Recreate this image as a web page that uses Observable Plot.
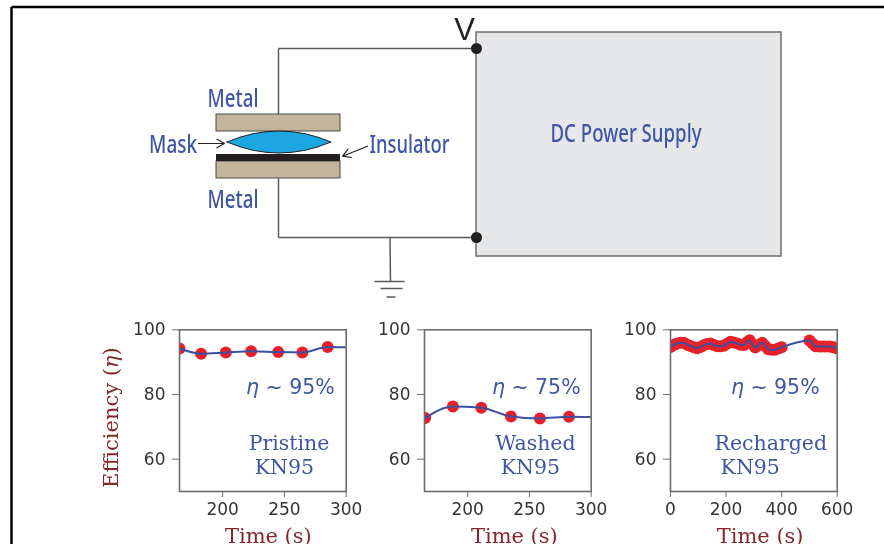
<!DOCTYPE html>
<html>
<head>
<meta charset="utf-8">
<script src="https://cdn.jsdelivr.net/npm/d3@7"></script>
<script src="https://cdn.jsdelivr.net/npm/@observablehq/plot@0.6"></script>
<style>
html,body{margin:0;padding:0;background:#fff;overflow:hidden}
#stage{position:relative;width:884px;height:544px;overflow:hidden;filter:blur(0.4px)}
#stage svg{position:absolute;background:transparent;overflow:visible}
</style>
</head>
<body>
<div id="stage"></div>
<script>
// Panel data
const pristineTime = [165, 182.5, 202.5, 223, 245, 264.5, 285];
const pristineEff = [94.2, 92.6, 93, 93.4, 93.1, 93, 94.7];
const pristineEnd = [300, 94.6];
const washedTime = [165.5, 188, 211, 235, 258.5, 282];
const washedEff = [72.7, 76.3, 75.9, 73.2, 72.6, 73.1];
const washedEnd = [300, 73];
const rechargedTime = [0, 12, 24, 36, 48, 60, 72, 84, 96, 108, 120, 132, 144, 156, 168, 180, 192, 204, 216, 228, 240, 252, 264, 276, 285, 295, 305, 318, 330, 341, 352, 364, 376, 388, 400, 500, 511, 522, 534, 546, 558, 570, 582, 591, 600];
const rechargedEff = [94.7, 95.3, 95.8, 96, 96, 95.4, 95, 94.6, 94.3, 94.7, 95.2, 95.6, 95.8, 95.3, 94.9, 94.9, 95.1, 95.7, 96.3, 96.1, 95.8, 95.4, 95.3, 96.2, 96.8, 95.5, 94.5, 95.4, 96, 95, 94, 93.8, 93.8, 94.2, 94.6, 96.7, 95.8, 94.9, 94.8, 94.8, 94.8, 94.8, 94.7, 94.5, 94.2];

const yTicks = [60, 80, 100];
const xTicksWindow = [200, 250, 300];
const xTicksLong = [0, 200, 400, 600];
const yDomain = [50, 100];
const shortDomain = [165, 300];
const longDomain = [0, 600];

const blue = "#3f55a5", red = "#e8202a", line = "#3b50a3", maroon = "#84262a", ink = "#333333", grey = "#6d6d6d";

// Schematic, in picture units
const metalRects = [{x1: 216, x2: 340, y1: 114, y2: 131}, {x1: 216, x2: 340, y1: 161, y2: 178}];
const insulatorRect = [{x1: 216, x2: 340, y1: 154, y2: 161}];
const supplyRect = [{x1: 476, x2: 781, y1: 32, y2: 256}];
const lensX = [227, 240, 253, 266, 279, 292, 305, 318, 331];
const lensTop = [142, 137.2, 133.7, 131.7, 131, 131.7, 133.7, 137.2, 142];
const lensBottom = [142, 146.8, 150.3, 152.3, 153, 152.3, 150.3, 146.8, 142];
const wires = [
  {x1: 278, y1: 114, x2: 278, y2: 48}, {x1: 278, y1: 48, x2: 476, y2: 48},
  {x1: 278, y1: 178, x2: 278, y2: 237}, {x1: 278, y1: 237, x2: 476, y2: 237},
  {x1: 389.5, y1: 237, x2: 390, y2: 281},
  {x1: 374, y1: 281, x2: 404, y2: 281}, {x1: 380, y1: 288, x2: 402, y2: 288}, {x1: 386, y1: 296.5, x2: 395, y2: 296.5}
];
const frameLines = [{x1: 11, y1: 6.5, x2: 884, y2: 6.5}, {x1: 11, y1: 6.5, x2: 11, y2: 544}];
const arrows = [{x1: 198, y1: 143, x2: 224, y2: 143}, {x1: 367, y1: 145.7, x2: 342, y2: 155.7}];
const terminals = [{x: 476, y: 48}, {x: 476, y: 237}];
const diagramLabels = [
  {t: "Metal", x: 232.5, y: 98.5, w: 51}, {t: "Metal", x: 232.5, y: 199.5, w: 51},
  {t: "Mask", x: 172.5, y: 144, w: 48}, {t: "Insulator", x: 409, y: 144, w: 80},
  {t: "DC Power Supply", x: 625.5, y: 133, w: 151}
];

const stage = document.getElementById("stage");

function place(svg, left, top) {
  svg.style.left = left + "px";
  svg.style.top = top + "px";
  stage.appendChild(svg);
  return svg;
}

function italicEta(svg) {
  svg.querySelectorAll("text").forEach(t => {
    const host = t.querySelector("tspan") || t;
    const s = host.textContent;
    const i = s.indexOf("η");
    if (i < 0) return;
    host.textContent = "";
    const add = (str, it) => {
      const sp = document.createElementNS("http://www.w3.org/2000/svg", "tspan");
      sp.textContent = str;
      if (it) sp.setAttribute("font-style", "italic");
      host.appendChild(sp);
    };
    if (i > 0) add(s.slice(0, i));
    add("η", true);
    add(s.slice(i + 1));
  });
}

// Schematic layer
const schematic = Plot.plot({
  width: 884, height: 544,
  marginTop: 0, marginRight: 0, marginBottom: 0, marginLeft: 0,
  x: {domain: [0, 884], range: [0, 884], axis: null},
  y: {domain: [0, 544], range: [0, 544], axis: null},
  marks: [
    Plot.link(frameLines, {x1: "x1", y1: "y1", x2: "x2", y2: "y2", stroke: "#000", strokeWidth: 2.5}),
    Plot.rect(supplyRect, {x1: "x1", x2: "x2", y1: "y1", y2: "y2", fill: "#e6e7e8", stroke: grey, strokeWidth: 1.5}),
    Plot.link(wires, {x1: "x1", y1: "y1", x2: "x2", y2: "y2", stroke: "#58595b", strokeWidth: 1.5}),
    Plot.rect(metalRects, {x1: "x1", x2: "x2", y1: "y1", y2: "y2", fill: "#c2b59b", stroke: "#4a4a4a", strokeWidth: 1}),
    Plot.rect(insulatorRect, {x1: "x1", x2: "x2", y1: "y1", y2: "y2", fill: "#231f20"}),
    Plot.areaY(lensX.map((x, i) => ({x, a: lensTop[i], b: lensBottom[i]})), {x: "x", y1: "a", y2: "b", curve: "linear", fill: "#1ca7e0", stroke: "#231f20", strokeWidth: 1}),
    Plot.arrow(arrows, {x1: "x1", y1: "y1", x2: "x2", y2: "y2", bend: 0, stroke: "#231f20", strokeWidth: 1.2, headLength: 12}),
    Plot.dot(terminals, {x: "x", y: "y", r: 5.5, fill: "#231f20"}),
    Plot.text(["V"], {x: 464, y: 30, fontFamily: "Liberation Sans", fontSize: 31, fill: "#231f20"}),
    Plot.text(diagramLabels, {x: "x", y: "y", text: "t", fontFamily: "Noto Sans", fontWeight: 500, fontSize: 25, fill: blue, className: "squeezed"})
  ]
});
// The condensed face of the original is not installed: fit each label to its measured width
schematic.querySelectorAll(".squeezed text").forEach(node => {
  const row = diagramLabels.find(d => d.t === node.textContent);
  node.setAttribute("textLength", row.w);
  node.setAttribute("lengthAdjust", "spacingAndGlyphs");
});
place(schematic, 0, 0);

// Small panels
function panel({time, eff, end, domain, ticks, eta, names, left, yLabel, timeDx}) {
  const rows = time.map((t, i) => ({t, e: eff[i]}));
  const lineRows = end ? rows.concat([{t: end[0], e: end[1]}]) : rows;
  const marks = [
    Plot.dot(rows, {x: "t", y: "e", r: 6, fill: red, clip: "frame"}),
    Plot.line(lineRows, {x: "t", y: "e", stroke: line, strokeWidth: 2, curve: "monotone-x", clip: "frame"}),
    Plot.frame({stroke: grey, strokeWidth: 1.6}),
    Plot.axisX({ticks, tickSize: 6, tickPadding: 5, stroke: grey, fill: ink, fontSize: 17, fontFamily: "DejaVu Sans", label: null, tickFormat: d => String(d)}),
    Plot.axisY({ticks: yTicks, tickSize: 7, tickPadding: 7, stroke: grey, fill: ink, fontSize: 17, fontFamily: "DejaVu Sans", label: null}),
    Plot.text(eta, {x: "x", y: "y", text: "t", fontFamily: "DejaVu Sans", fontSize: 20.5, fill: blue}),
    Plot.text(names, {x: "x", y: "y", text: "t", fontFamily: "DejaVu Serif", fontSize: 20.5, fill: blue}),
    Plot.text(["Time (s)"], {frameAnchor: "bottom", lineAnchor: "middle", dx: timeDx, dy: 44.5, fontFamily: "DejaVu Serif", fontSize: 21, fill: maroon})
  ];
  if (yLabel) marks.push(Plot.text([yLabel], {frameAnchor: "left", textAnchor: "middle", lineAnchor: "middle", dx: -68.3, dy: 7, rotate: -90, fontFamily: "DejaVu Serif", fontSize: 21, fill: maroon}));
  const svg = Plot.plot({
    width: 256.7, height: 234,
    marginTop: 19.3, marginRight: 30, marginBottom: 53, marginLeft: 60,
    x: {domain, axis: null},
    y: {domain: yDomain, axis: null},
    marks
  });
  italicEta(svg);
  return place(svg, left - 60, 310);
}

panel({time: pristineTime, eff: pristineEff, end: pristineEnd, domain: shortDomain, ticks: xTicksWindow, left: 179.3, yLabel: "Efficiency (η)", timeDx: 5.5,
  eta: [{t: "η ~ 95%", x: 254.8, y: 82.2}],
  names: [{t: "Pristine", x: 253.7, y: 64.8}, {t: "KN95", x: 250, y: 57.4}]});
panel({time: washedTime, eff: washedEff, end: washedEnd, domain: shortDomain, ticks: xTicksWindow, left: 424.3, timeDx: 6.5,
  eta: [{t: "η ~ 75%", x: 255.5, y: 82.2}],
  names: [{t: "Washed", x: 254.8, y: 64.8}, {t: "KN95", x: 250.7, y: 57.4}]});
panel({time: rechargedTime, eff: rechargedEff, domain: longDomain, ticks: xTicksLong, left: 670.3, timeDx: 6.3,
  eta: [{t: "η ~ 95%", x: 377, y: 82.2}],
  names: [{t: "Recharged", x: 361, y: 64.8}, {t: "KN95", x: 287, y: 57.4}]});
</script>
</body>
</html>
